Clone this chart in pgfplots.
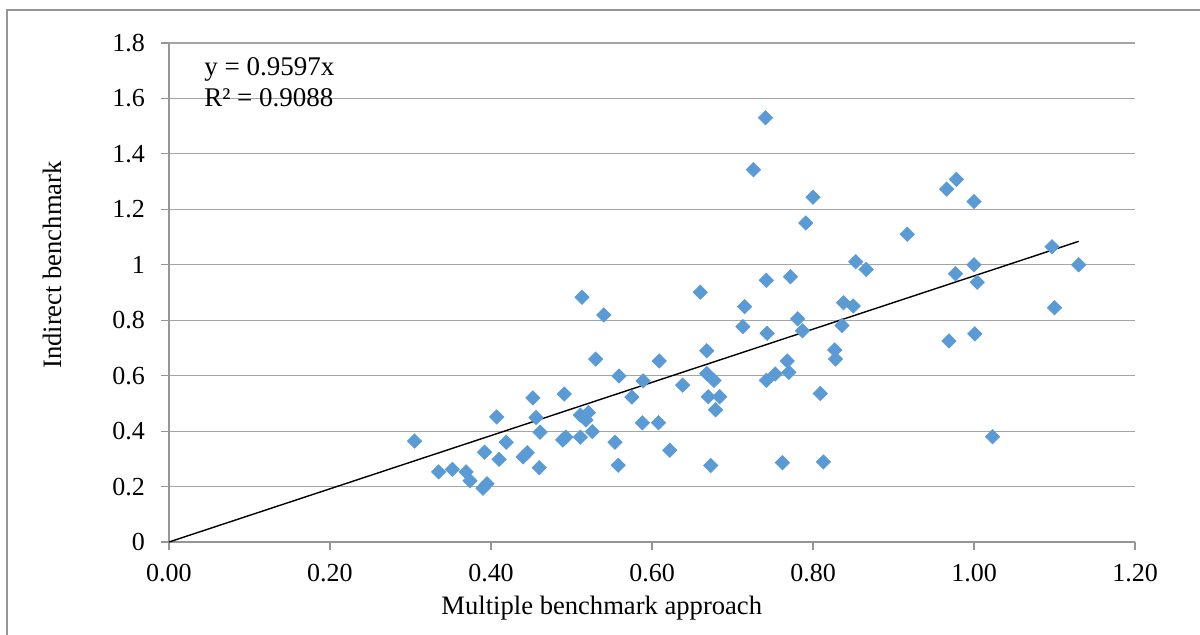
\documentclass[border=0pt]{standalone}
\usepackage{fontspec}
\setmainfont{Liberation Serif}
\usepackage{pgfplots}
\pgfplotsset{compat=1.18}
\definecolor{markblue}{RGB}{91,155,213}
\definecolor{gridgray}{RGB}{165,165,165}
\definecolor{linegray}{RGB}{150,150,150}

% Multiple benchmark (x) against indirect benchmark (y)
\pgfplotstableread{
x y
0.305 0.364
0.335 0.253
0.352 0.262
0.369 0.253
0.374 0.221
0.392 0.324
0.390 0.194
0.395 0.210
0.407 0.451
0.410 0.298
0.419 0.360
0.440 0.307
0.445 0.322
0.452 0.520
0.456 0.449
0.461 0.396
0.460 0.268
0.491 0.534
0.489 0.368
0.493 0.378
0.511 0.378
0.511 0.458
0.513 0.883
0.518 0.440
0.521 0.467
0.526 0.398
0.530 0.660
0.540 0.819
0.554 0.360
0.558 0.277
0.559 0.599
0.575 0.523
0.588 0.430
0.589 0.581
0.608 0.430
0.609 0.653
0.622 0.331
0.638 0.566
0.660 0.901
0.668 0.690
0.668 0.608
0.670 0.524
0.673 0.276
0.677 0.583
0.679 0.477
0.684 0.524
0.713 0.777
0.715 0.849
0.726 1.343
0.741 1.530
0.742 0.944
0.742 0.583
0.743 0.753
0.753 0.606
0.762 0.286
0.768 0.653
0.770 0.612
0.772 0.957
0.781 0.805
0.787 0.762
0.791 1.151
0.800 1.244
0.809 0.536
0.813 0.289
0.827 0.693
0.828 0.660
0.836 0.781
0.838 0.863
0.850 0.851
0.853 1.011
0.866 0.983
0.917 1.110
0.966 1.273
0.978 1.308
0.969 0.725
0.977 0.968
1.000 1.228
1.000 1.000
1.004 0.937
1.001 0.751
1.023 0.380
1.097 1.065
1.100 0.845
1.130 1.000
}\benchdata

\begin{document}
\begin{tikzpicture}[x=1pt,y=1pt]
\useasboundingbox (-84.5,-46) rectangle (515.5,271);
\draw[linegray, line width=0.6pt] (-81,-50) -- (-81,266) -- (520,266);
\begin{axis}[
  at={(0,0)}, anchor=south west,
  scale only axis, width=483pt, height=249.5pt,
  xmin=0, xmax=1.2, ymin=0, ymax=1.8,
  xtick={0,0.2,0.4,0.6,0.8,1.0,1.2},
  ytick={0,0.2,0.4,0.6,0.8,1,1.2,1.4,1.6,1.8},
  axis x line*=bottom, axis y line*=left,
  axis line style={-, linegray, line width=0.6pt},
  ymajorgrids, major grid style={gridgray, line width=0.6pt},
  tick align=outside, major tick length=4pt,
  tick style={linegray, line width=0.6pt},
  minor tick num=0,
  /pgf/number format/assume math mode=true,
  ticklabel style={font=\fontsize{13}{15}\selectfont},
  xticklabel style={yshift=-3.5pt, /pgf/number format/.cd, fixed, fixed zerofill, precision=2},
  yticklabel style={xshift=-4.5pt, /pgf/number format/.cd, fixed},
  xlabel={Multiple benchmark approach},
  ylabel={Indirect benchmark},
  label style={font=\fontsize{13.3}{16}\selectfont},
  xlabel style={at={(axis description cs:0.448,-0.1443)}, anchor=base},
  ylabel style={at={(axis description cs:-0.121,0.555)}, anchor=center},
  clip=false,
]
\addplot[only marks, mark=square*, mark size=2.5pt,
  mark options={rotate=45, fill=markblue, draw=markblue}] table[x=x,y=y] {\benchdata};
% linear fit through the origin
\addplot[black, line width=0.7pt] coordinates {(0,0) (1.13,1.0845)};
\node[anchor=base west, inner sep=0pt, font=\fontsize{13.5}{16}\selectfont] at (axis description cs:0.0362,0.934) {y = 0.9597x};
\node[anchor=base west, inner sep=0pt, font=\fontsize{13.5}{16}\selectfont] at (axis description cs:0.0362,0.872) {R² = 0.9088};
\end{axis}
\end{tikzpicture}
\end{document}
